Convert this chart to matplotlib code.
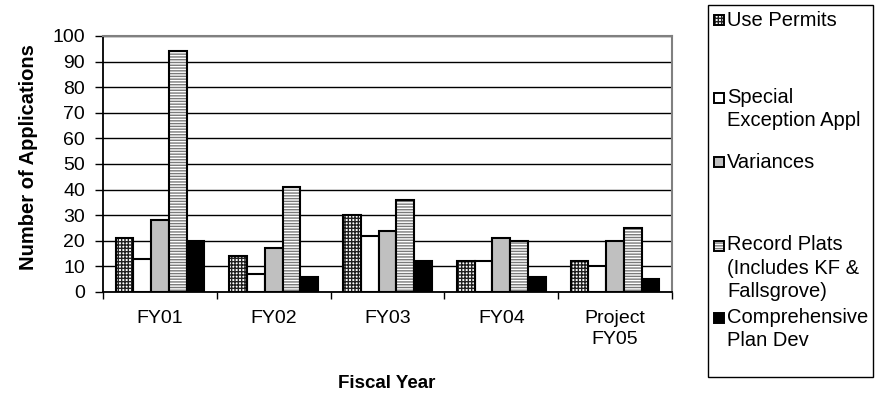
import matplotlib
matplotlib.use("Agg")
import matplotlib.pyplot as plt
from matplotlib.patches import Rectangle
import numpy as np

plt.rcParams['font.family'] = ['Liberation Sans', 'DejaVu Sans']
plt.rcParams['hatch.linewidth'] = 1.0

categories = ["FY01", "FY02", "FY03", "FY04", "Project\nFY05"]
series_names = ["Use Permits", "Special\nException Appl", "Variances",
                "Record Plats\n(Includes KF &\nFallsgrove)", "Comprehensive\nPlan Dev"]
use_permits = [21, 14, 30, 12, 12]
special_exception = [13, 7, 22, 12, 10]
variances = [28, 17, 24, 21, 20]
record_plats = [94, 41, 36, 20, 25]
comprehensive_plan = [20, 6, 12, 6, 5]
series_values = [use_permits, special_exception, variances, record_plats, comprehensive_plan]
y_ticks = list(range(0, 101, 10))

# fill style per series: (facecolor, hatch, hatch colour)
styles = [
    ("white", "+++++", "#202020"),
    ("white", None, None),
    ("#c0c0c0", None, None),
    ("white", "------", "#7a7a7a"),
    ("black", None, None),
]

W, H = 884, 393
fig = plt.figure(figsize=(W / 100, H / 100), dpi=100)
ax = fig.add_axes([103 / W, 1 - 292 / H, (672 - 103) / W, (292 - 36) / H])

x = np.arange(len(categories))
bw = 0.156
edge_lw = 1.5

for j, vals in enumerate(series_values):
    fc, hatch, hc = styles[j]
    pos = x + (j - 2) * bw
    if hatch:
        ax.bar(pos, vals, width=bw, facecolor=fc, edgecolor=hc, hatch=hatch,
               linewidth=0, zorder=3)
        ax.bar(pos, vals, width=bw, fill=False, edgecolor="black",
               linewidth=edge_lw, zorder=4)
    else:
        ax.bar(pos, vals, width=bw, facecolor=fc, edgecolor="black",
               linewidth=edge_lw, zorder=3)

ax.set_xlim(-0.5, len(categories) - 0.5)
ax.set_ylim(0, 100)
ax.set_yticks(y_ticks)
ax.yaxis.grid(True, color="black", linewidth=1.0, zorder=0)
ax.set_axisbelow(True)

# category boundaries get tick marks, labels sit at category centres
ax.set_xticks(np.arange(-0.5, len(categories), 1.0))
ax.set_xticklabels([])
ax.set_xticks(x, minor=True)
ax.set_xticklabels(categories, minor=True, fontsize=14, linespacing=1.3)
ax.tick_params(axis="x", which="major", length=5, width=1, color="black")
ax.tick_params(axis="x", which="minor", length=0, pad=13)
ax.tick_params(axis="y", length=6, width=1, direction="out", labelsize=14, pad=7)

for side in ("top", "right"):
    ax.spines[side].set_color("#808080")
    ax.spines[side].set_linewidth(1.5)
for side in ("left", "bottom"):
    ax.spines[side].set_color("black")
    ax.spines[side].set_linewidth(1.3)

fig.text(29 / W, 1 - 157 / H, "Number of Applications", rotation=90,
         ha="center", va="center", fontsize=14.5, fontweight="bold")
fig.text(387 / W, 1 - 383 / H, "Fiscal Year", ha="center", va="center",
         fontsize=13.5, fontweight="bold")

# legend box drawn in figure pixels
def fx(px):
    return px / W

def fy(py):
    return 1 - py / H

fig.patches.append(Rectangle((fx(708), fy(377)), fx(873) - fx(708), fy(5) - fy(377),
                             transform=fig.transFigure, fill=False,
                             edgecolor="black", linewidth=1.0))

first_line_y = [20, 98, 162, 246, 318]
line_pitch = 22
sq = 10
for j, name in enumerate(series_names):
    fc, hatch, hc = styles[j]
    cy = first_line_y[j]
    rx, ry = fx(714), fy(cy + sq / 2)
    rw, rh = fx(714 + sq) - fx(714), fy(cy - sq / 2) - fy(cy + sq / 2)
    if hatch:
        fig.patches.append(Rectangle((rx, ry), rw, rh, transform=fig.transFigure,
                                     facecolor=fc, edgecolor=hc, hatch=hatch, linewidth=0))
        fig.patches.append(Rectangle((rx, ry), rw, rh, transform=fig.transFigure,
                                     fill=False, edgecolor="black", linewidth=1.4))
    else:
        fig.patches.append(Rectangle((rx, ry), rw, rh, transform=fig.transFigure,
                                     facecolor=fc, edgecolor="black", linewidth=1.4))
    n_lines = name.count("\n") + 1
    block_center = cy + (n_lines - 1) * line_pitch / 2
    fig.text(fx(727), fy(block_center), name, ha="left", va="center",
             fontsize=14.5, linespacing=1.28)

fig.savefig("out.png", dpi=100)
